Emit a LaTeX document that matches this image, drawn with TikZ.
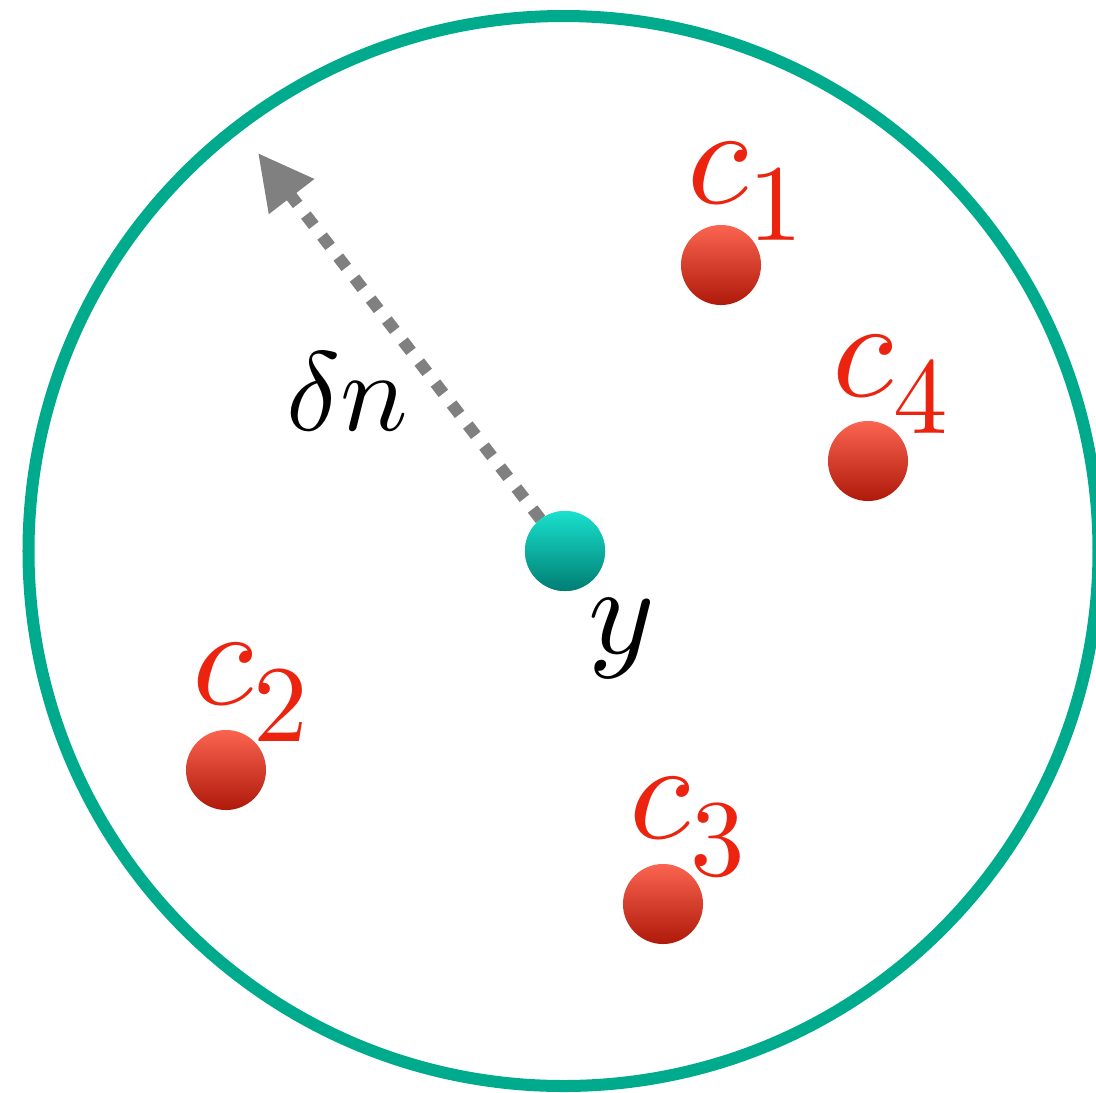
\RequirePackage{fix-cm}
\documentclass[tikz,border=0pt]{standalone}
\usetikzlibrary{arrows.meta}
\DeclareFontShape{OML}{cmm}{m}{it}{<->cmmi10}{}
\DeclareFontShape{OT1}{cmr}{m}{n}{<->cmr10}{}
\definecolor{ringcol}{RGB}{0,170,140}
\definecolor{redhi}{RGB}{250,100,80}
\definecolor{redlo}{RGB}{175,25,10}
\definecolor{tealhi}{RGB}{25,225,205}
\definecolor{teallo}{RGB}{0,125,115}
\definecolor{labred}{RGB}{235,35,15}
\definecolor{arrgray}{RGB}{128,128,128}
\newcommand\lsub[1]{\raisebox{-0.37cm}{\fontsize{31}{31}\selectfont$#1$}}
\begin{document}
\begin{tikzpicture}[x=0.01cm,y=-0.01cm,
  ring/.style={draw=ringcol,line width=0.12cm},
  redball/.style={circle,minimum size=0.8cm,inner sep=0pt,outer sep=0pt,top color=redhi,bottom color=redlo,draw=none},
  tealball/.style={circle,minimum size=0.8cm,inner sep=0pt,outer sep=0pt,top color=tealhi,bottom color=teallo,draw=none},
  clabel/.style={text=labred,font=\fontsize{40}{42}\selectfont,inner sep=0pt,anchor=base west},
  blabel/.style={text=black,font=\fontsize{32}{34}\selectfont,inner sep=0pt,anchor=base west},
  ylabel/.style={text=black,font=\fontsize{36}{38}\selectfont,inner sep=0pt,anchor=base west},
  darrow/.style={draw=arrgray,line width=0.12cm,dash pattern=on 0.13cm off 0.135cm,-{Triangle[length=0.55cm,width=0.54cm]}}]
\useasboundingbox (0,0) rectangle (1096,1093);
\draw[ring] (563.5,551) circle[radius=535];
\node[tealball] (yb) at (565,551) {};
\coordinate (tip) at (258,153);
\draw[darrow] (yb) -- (tip);
\node[tealball] at (565,551) {};
\node[redball] (b1) at (721,265) {};
\node[redball] (b4) at (868,461) {};
\node[redball] (b2) at (226,770) {};
\node[redball] (b3) at (663,904) {};
\node[clabel] (l1) at (687,203) {$c$\lsub{1}};
\node[clabel] (l4) at (832,396) {$c$\lsub{4}};
\node[clabel] (l2) at (192,704) {$c$\lsub{2}};
\node[clabel] (l3) at (629,838) {$c$\lsub{3}};
\node[blabel] (ldn) at (286,430) {$\delta n$};
\node[ylabel] (ly) at (588,653) {$y$};
\end{tikzpicture}
\end{document}
